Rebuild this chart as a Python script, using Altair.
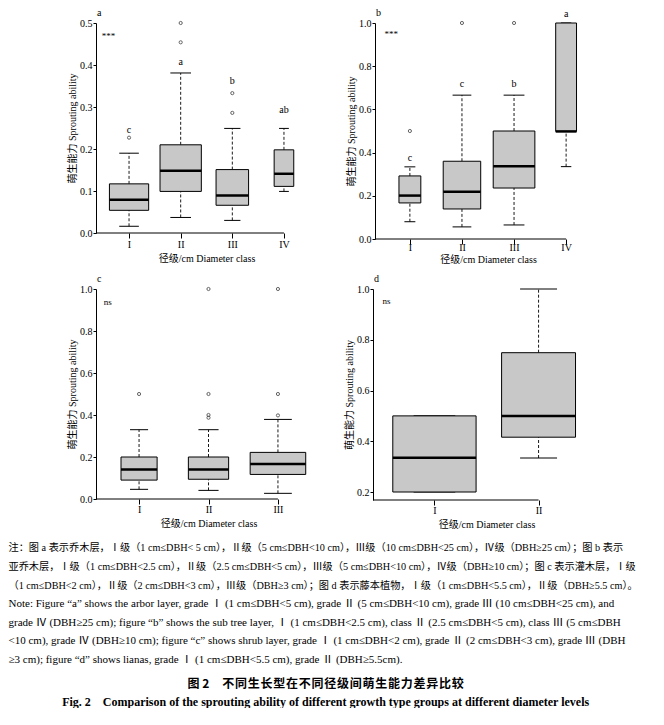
import altair as alt
import pandas as pd

SERIF = "'Liberation Serif', 'Noto Sans CJK SC'"
CJK_BOLD = "'Noto Sans CJK SC'"
XTITLE = "径级/cm Diameter class"
YTITLE = "萌生能力 Sprouting ability"

# ---------------- panel a (arbor layer) ----------------
a_classes = ["I", "II", "III", "IV"]
a_low = [0.016, 0.037, 0.030, 0.099]
a_q1 = [0.054, 0.099, 0.066, 0.111]
a_med = [0.079, 0.148, 0.089, 0.141]
a_q3 = [0.117, 0.210, 0.151, 0.198]
a_high = [0.190, 0.381, 0.249, 0.249]
a_width = [0.76, 0.80, 0.63, 0.38]
a_out_cls = [1, 2, 2, 3, 3]
a_out_val = [0.227, 0.454, 0.500, 0.286, 0.333]
a_letters = ["c", "a", "b", "ab"]
a_letter_y = [0.245, 0.407, 0.362, 0.293]

# ---------------- panel b (sub tree layer) ----------------
b_classes = ["I", "II", "III", "IV"]
b_low = [0.080, 0.056, 0.065, 0.335]
b_q1 = [0.167, 0.139, 0.236, 0.498]
b_med = [0.201, 0.219, 0.337, 0.498]
b_q3 = [0.292, 0.360, 0.500, 1.000]
b_high = [0.334, 0.666, 0.666, 1.000]
b_width = [0.42, 0.72, 0.80, 0.40]
b_out_cls = [1, 2, 3]
b_out_val = [0.500, 1.000, 1.000]
b_letters = ["c", "c", "b", "a"]
b_letter_y = [0.376, 0.719, 0.719, 1.043]

# ---------------- panel c (shrub layer) ----------------
c_classes = ["I", "II", "III"]
c_low = [0.046, 0.041, 0.027]
c_q1 = [0.090, 0.094, 0.117]
c_med = [0.140, 0.140, 0.167]
c_q3 = [0.200, 0.200, 0.222]
c_high = [0.330, 0.330, 0.379]
c_width = [0.52, 0.58, 0.80]
c_out_cls = [1, 2, 2, 2, 2, 3, 3, 3]
c_out_val = [0.500, 0.387, 0.400, 0.500, 1.000, 0.398, 0.500, 1.000]

# ---------------- panel d (lianas) ----------------
d_classes = ["I", "II"]
d_low = [0.200, 0.334]
d_q1 = [0.200, 0.416]
d_med = [0.335, 0.500]
d_q3 = [0.500, 0.749]
d_high = [0.500, 1.000]
d_width = [0.80, 0.71]

# ---------------- caption text ----------------
cn_notes = [
    "\u3000\u3000注：图 a 表示乔木层，Ⅰ级（1 cm≤DBH< 5 cm），Ⅱ级（5 cm≤DBH<10 cm），Ⅲ级（10 cm≤DBH<25 cm），Ⅳ级（DBH≥25 cm）；图 b 表示",
    "亚乔木层，Ⅰ级（1 cm≤DBH<2.5 cm），Ⅱ级（2.5 cm≤DBH<5 cm），Ⅲ级（5 cm≤DBH<10 cm），Ⅳ级（DBH≥10 cm）；图 c 表示灌木层，Ⅰ级",
    "（1 cm≤DBH<2 cm），Ⅱ级（2 cm≤DBH<3 cm），Ⅲ级（DBH≥3 cm）；图 d 表示藤本植物，Ⅰ级（1 cm≤DBH<5.5 cm），Ⅱ级（DBH≥5.5 cm）。",
]
en_notes = [
    "\u3000\u3000Note: Figure “a” shows the arbor layer, grade Ⅰ (1 cm≤DBH<5 cm), grade Ⅱ (5 cm≤DBH<10 cm), grade Ⅲ (10 cm≤DBH<25 cm), and",
    "grade Ⅳ (DBH≥25 cm); figure “b” shows the sub tree layer, Ⅰ (1 cm≤DBH<2.5 cm), class Ⅱ (2.5 cm≤DBH<5 cm), class Ⅲ (5 cm≤DBH",
    "<10 cm), grade Ⅳ (DBH≥10 cm); figure “c” shows shrub layer, grade Ⅰ (1 cm≤DBH<2 cm), grade Ⅱ (2 cm≤DBH<3 cm), grade Ⅲ (DBH",
    "≥3 cm); figure “d” shows lianas, grade Ⅰ (1 cm≤DBH<5.5 cm), grade Ⅱ (DBH≥5.5cm).",
]
fig_cn_head = "图 2"
fig_cn_body = "不同生长型在不同径级间萌生能力差异比较"
fig_en = "Fig. 2\u2003Comparison of the sprouting ability of different growth type groups at different diameter levels"

# the printed caption is set with a little tracking between Chinese characters
fig_cn = fig_cn_head + "\u3000\u200a" + "\u200a".join(fig_cn_body)


def make_panel(tag, classes, lo, q1, med, q3, hi, wid, out_cls, out_val,
               let_txt, let_y, sig_txt, sig_x, sig_y, xdom, ydom, yticks,
               width, height, label_pad, title_pad):
    n = len(classes)
    stats = pd.DataFrame({"pos": list(range(1, n + 1)), "lo": lo, "q1": q1,
                          "med": med, "q3": q3, "hi": hi, "w": wid})
    base = alt.Chart(stats).transform_calculate(
        left="datum.pos - datum.w / 2", right="datum.pos + datum.w / 2",
        capl="datum.pos - datum.w / 4", capr="datum.pos + datum.w / 4")
    xs = alt.Scale(domain=xdom, nice=False, zero=False)
    ys = alt.Scale(domain=ydom, nice=False, zero=False)
    arr = "[" + ",".join("'" + c + "'" for c in classes) + "]"
    xaxis = alt.Axis(values=list(range(1, n + 1)), labelExpr=arr + "[datum.value - 1]",
                     title=XTITLE, domain=False, ticks=True, tickSize=5, tickColor="black",
                     tickWidth=1, labelPadding=label_pad, titlePadding=title_pad, grid=False,
                     labelFont=SERIF, labelFontSize=10, labelColor="black", labelAngle=0,
                     titleFont=SERIF, titleFontSize=10, titleFontWeight="normal",
                     titleColor="black")
    yaxis = alt.Axis(values=yticks, format=".1f", title=YTITLE, domain=True,
                     domainColor="black", domainWidth=1, tickColor="black", tickSize=3,
                     tickWidth=1, labelPadding=1, titlePadding=2, grid=False,
                     labelFont=SERIF, labelFontSize=10, labelColor="black",
                     titleFont=SERIF, titleFontSize=10, titleFontWeight="normal",
                     titleColor="black")

    def X(f):
        return alt.X(f + ":Q", scale=xs, axis=xaxis)

    def Y(f):
        return alt.Y(f + ":Q", scale=ys, axis=yaxis)

    layers = [
        base.mark_rule(color="black", strokeWidth=0.9, strokeDash=[3, 2]).encode(
            x=X("pos"), y=Y("q3"), y2="hi"),
        base.mark_rule(color="black", strokeWidth=0.9, strokeDash=[3, 2]).encode(
            x=X("pos"), y=Y("lo"), y2="q1"),
        base.mark_rule(color="black", strokeWidth=1).encode(x=X("capl"), x2="capr", y=Y("hi")),
        base.mark_rule(color="black", strokeWidth=1).encode(x=X("capl"), x2="capr", y=Y("lo")),
        base.mark_rect(fill="#c8c8c8", stroke="black", strokeWidth=1).encode(
            x=X("left"), x2="right", y=Y("q1"), y2="q3"),
        base.mark_rule(color="black", strokeWidth=2.5).encode(x=X("left"), x2="right", y=Y("med")),
    ]
    if out_cls:
        odf = pd.DataFrame({"pos": out_cls, "val": out_val})
        layers.append(alt.Chart(odf).mark_point(shape="circle", size=10, filled=False,
                                                color="#222222", strokeWidth=1).encode(
            x=X("pos"), y=Y("val")))
    if let_txt:
        ldf = pd.DataFrame({"pos": list(range(1, n + 1)), "y": let_y, "label": let_txt})
        layers.append(alt.Chart(ldf).mark_text(font=SERIF, fontSize=10, color="black").encode(
            x=X("pos"), y=Y("y"), text="label:N"))
    sdf = pd.DataFrame({"x": [sig_x], "y": [sig_y], "label": [sig_txt]})
    layers.append(alt.Chart(sdf).mark_text(font=SERIF, fontSize=9, color="black").encode(
        x=X("x"), y=Y("y"), text="label:N"))
    # panel tag (a, b, c, d) above the top-left corner of the plot
    tdf = pd.DataFrame({"x": [xdom[0]], "y": [ydom[1]], "label": [tag]})
    layers.append(alt.Chart(tdf).mark_text(font=SERIF, fontSize=10, color="black",
                                           align="left", dx=1, dy=-10).encode(
        x=X("x"), y=Y("y"), text="label:N"))
    adf = pd.DataFrame({"x0": [xdom[0]], "xe": [n], "y": [ydom[0]]})
    layers.append(alt.Chart(adf).mark_rule(color="black", strokeWidth=1).encode(
        x=X("x0"), x2="xe", y=Y("y")))

    return alt.layer(*layers).properties(width=width, height=height)


pa = make_panel("a", a_classes, a_low, a_q1, a_med, a_q3, a_high, a_width, a_out_cls, a_out_val,
                a_letters, a_letter_y, "***", 0.60, 0.470, [0.36, 4.64], [0, 0.5],
                [0, 0.1, 0.2, 0.3, 0.4, 0.5], 221, 210, 1, 4)
pb = make_panel("b", b_classes, b_low, b_q1, b_med, b_q3, b_high, b_width, b_out_cls, b_out_val,
                b_letters, b_letter_y, "***", 0.64, 0.947, [0.33, 4.67], [0, 1.0],
                [0, 0.2, 0.4, 0.6, 0.8, 1.0], 226, 216, -2, 2)
pc = make_panel("c", c_classes, c_low, c_q1, c_med, c_q3, c_high, c_width, c_out_cls, c_out_val,
                None, None, "ns", 0.55, 0.94, [0.38, 3.62], [0, 1.0],
                [0, 0.2, 0.4, 0.6, 0.8, 1.0], 225, 210, 0, 4)
pd_ = make_panel("d", d_classes, d_low, d_q1, d_med, d_q3, d_high, d_width, [], [],
                 None, None, "ns", 0.54, 0.953, [0.41, 2.59], [0.1685, 1.0],
                 [0.2, 0.4, 0.6, 0.8, 1.0], 227, 211, 0, 4)

row1 = alt.hconcat(pa, pb, spacing=29)
row2 = alt.hconcat(pc, pd_, spacing=23)

inner = alt.vconcat(row1, row2, spacing=10).properties(
    title=alt.TitleParams(cn_notes, subtitle=en_notes, orient="bottom", anchor="start",
                          frame="bounds", dx=-59, offset=14,
                          font=SERIF, fontSize=10.2, fontWeight="normal", color="black",
                          lineHeight=19,
                          subtitleFont=SERIF, subtitleFontSize=11, subtitleColor="black",
                          subtitleLineHeight=18.6, subtitlePadding=7))

chart = alt.vconcat(inner).properties(
    title=alt.TitleParams(fig_cn, subtitle=fig_en, orient="bottom", anchor="middle",
                          frame="bounds", offset=14,
                          font=CJK_BOLD, fontSize=12, fontWeight="bold", color="black",
                          subtitleFont="'Liberation Serif'", subtitleFontSize=12,
                          subtitleFontWeight="bold", subtitleColor="black",
                          subtitlePadding=6),
    padding={"left": 0, "top": 0, "right": 0, "bottom": 0},
).configure_view(stroke=None).configure_concat(spacing=8)

chart.save("out.html", embed_options={"renderer": "svg", "actions": False})
